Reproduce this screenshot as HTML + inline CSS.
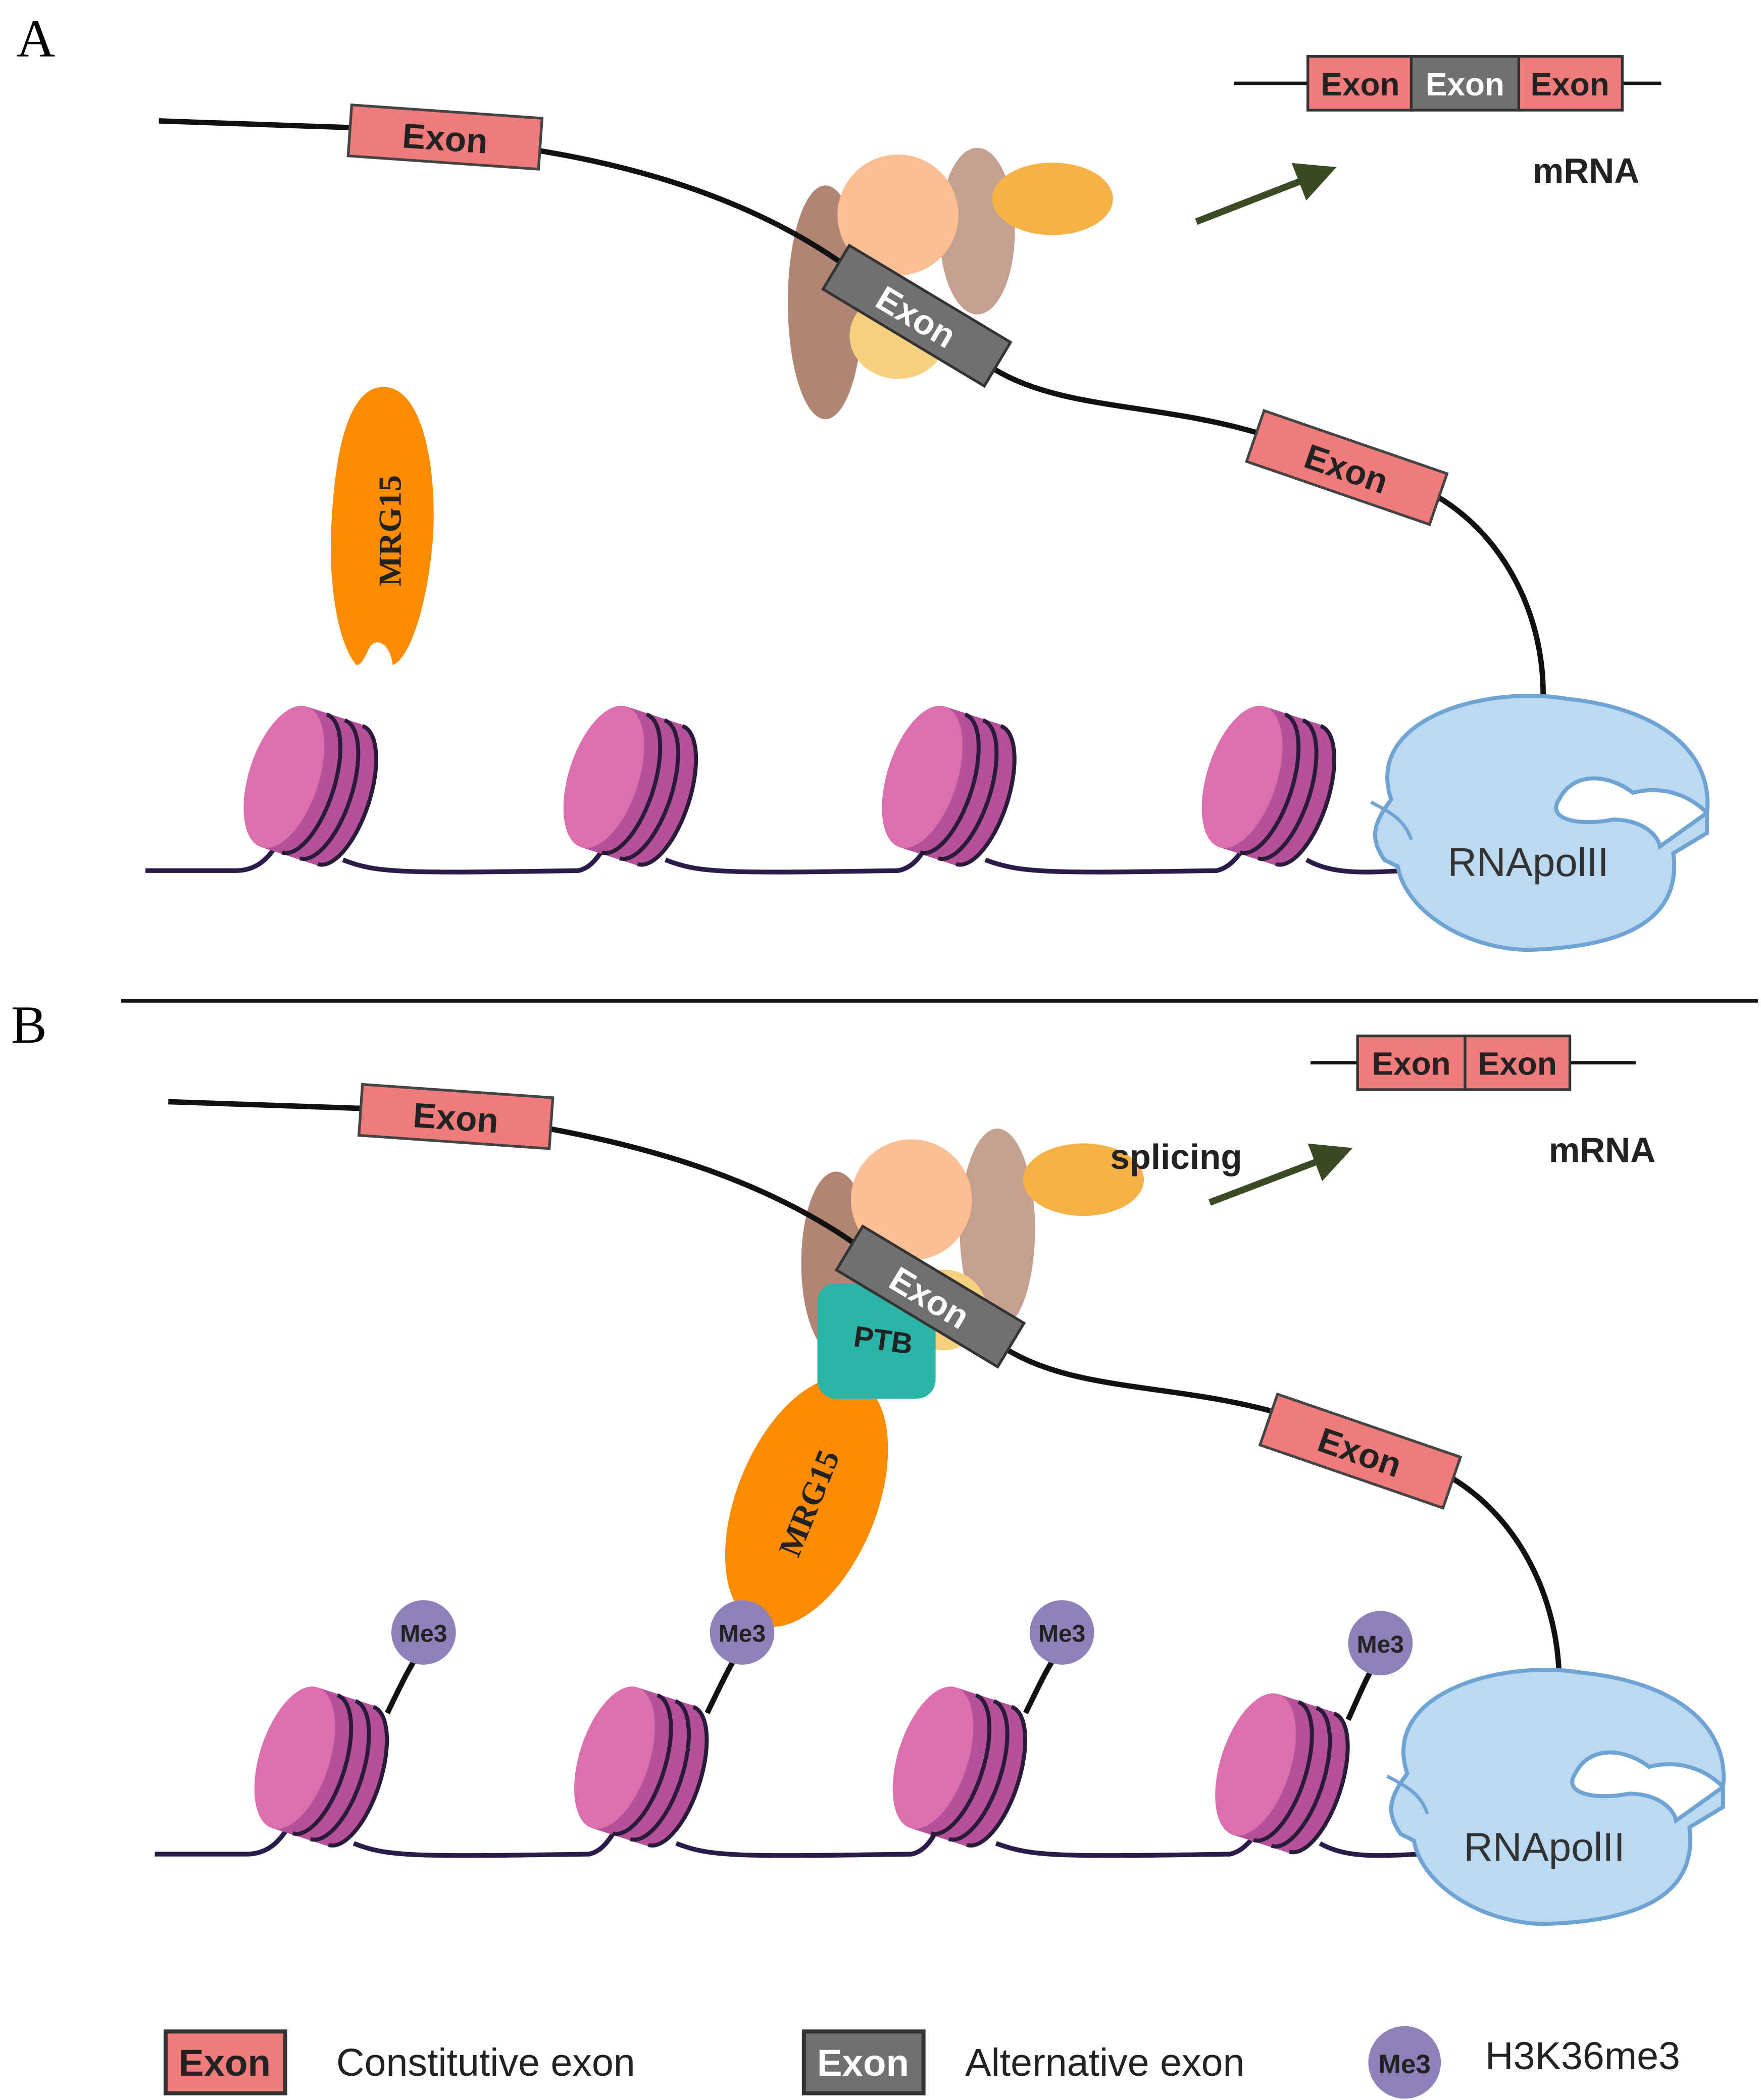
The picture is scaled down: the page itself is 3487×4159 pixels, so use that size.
<!DOCTYPE html>
<html><head><meta charset="utf-8"><style>
html,body{margin:0;padding:0;background:#fff;}
svg{display:block;}
</style></head><body>
<svg width="3487" height="4159" viewBox="0 0 1310 1563" xmlns="http://www.w3.org/2000/svg">
<defs>
<g id="nuc">
  <g transform="rotate(18)">
    <rect x="-22" y="-55" width="44" height="110" fill="#b5519a"/>
    <ellipse cx="22" cy="0" rx="22" ry="55" fill="#b5519a"/>
    <ellipse cx="-22" cy="0" rx="26" ry="55" fill="#dc6fad"/>
    <path d="M-6,-54 A22,54 0 0 1 -6,54" fill="none" stroke="#2b1b3a" stroke-width="3"/>
    <path d="M8,-54 A22,54 0 0 1 8,54" fill="none" stroke="#2b1b3a" stroke-width="3"/>
    <path d="M22,-54 A22,54 0 0 1 22,54" fill="none" stroke="#2b1b3a" stroke-width="3"/>
  </g>
</g>
<g id="pol">
  <path d="M-110,-20 C-130,-80 -40,-105 20,-95 C90,-88 130,-55 125,-10 C110,-25 90,-30 70,-25 C50,-40 25,-40 15,-20 C5,-5 30,0 55,-5 C75,-5 88,5 90,15 L125,-10 L125,5 L100,20 C105,60 80,90 -10,92 C-60,90 -100,60 -105,30 L-115,25 C-125,10 -125,0 -110,-20 Z" fill="#bcd9f2" stroke="#6ea3d3" stroke-width="3"/>
  <path d="M-125,-18 C-110,-10 -100,-5 -95,10" fill="none" stroke="#6ea3d3" stroke-width="2.5"/>
</g>
<marker id="ah" markerWidth="6" markerHeight="6" refX="4" refY="3" orient="auto" markerUnits="strokeWidth">
  <path d="M0,0 L6,3 L0,6 Z" fill="#3a4a25"/>
</marker>
</defs>

<g font-family="Liberation Sans, sans-serif">
<text x="12" y="42" font-family="Liberation Serif, serif" font-size="40">A</text>

<ellipse cx="614" cy="225" rx="28" ry="87" fill="#b08573"/>
<ellipse cx="727" cy="172" rx="28" ry="62" fill="#c5a090"/>
<circle cx="668" cy="160" r="45" fill="#fbbf93"/>
<ellipse cx="783" cy="148" rx="45" ry="27" fill="#f5b347"/>
<ellipse cx="668" cy="250" rx="36" ry="32" fill="#f5d17f"/>

<path d="M118,90 L262,95" stroke="#111" stroke-width="4" fill="none"/>
<path d="M400,112 C480,125 560,150 625,195" stroke="#111" stroke-width="4" fill="none"/>
<path d="M740,275 C790,305 860,300 935,322" stroke="#111" stroke-width="4" fill="none"/>
<path d="M1070,370 C1120,400 1150,460 1148,522" stroke="#111" stroke-width="4" fill="none"/>
<g transform="translate(331,102) rotate(4)"><rect x="-71" y="-19" width="142" height="38" fill="#ef7b7b" stroke="#444" stroke-width="2"/><text x="0" y="10" text-anchor="middle" font-size="26" font-weight="bold" fill="#222">Exon</text></g>
<g transform="translate(682,235) rotate(31)"><rect x="-70" y="-19" width="140" height="38" fill="#707070" stroke="#333" stroke-width="2"/><text x="0" y="10" text-anchor="middle" font-size="26" font-weight="bold" fill="#fff">Exon</text></g>
<g transform="translate(1002,348) rotate(19)"><rect x="-72" y="-20" width="144" height="40" fill="#ef7b7b" stroke="#444" stroke-width="2"/><text x="0" y="10" text-anchor="middle" font-size="26" font-weight="bold" fill="#222">Exon</text></g>

<line x1="918" y1="62" x2="1236" y2="62" stroke="#111" stroke-width="2.5"/>
<rect x="973" y="42" width="77" height="40" fill="#ef7b7b" stroke="#333" stroke-width="2"/>
<rect x="1050" y="42" width="80" height="40" fill="#707070" stroke="#333" stroke-width="2"/>
<rect x="1130" y="42" width="77" height="40" fill="#ef7b7b" stroke="#333" stroke-width="2"/>
<text x="1012" y="71" text-anchor="middle" font-size="24" font-weight="bold" fill="#222">Exon</text>
<text x="1090" y="71" text-anchor="middle" font-size="24" font-weight="bold" fill="#fff">Exon</text>
<text x="1168" y="71" text-anchor="middle" font-size="24" font-weight="bold" fill="#222">Exon</text>
<text x="1180" y="136" text-anchor="middle" font-size="26" font-weight="bold" fill="#222">mRNA</text>
<line x1="890" y1="165" x2="985" y2="128" stroke="#3a4a25" stroke-width="5" marker-end="url(#ah)"/>

<path d="M285,288 C315,288 325,350 322,400 C318,450 305,490 292,495 C290,480 282,475 276,480 C272,486 270,495 265,495 C252,480 245,440 246,400 C248,340 258,288 285,288 Z" fill="#fb8c00"/>
<text transform="translate(298,395) rotate(-90)" text-anchor="middle" font-family="Liberation Serif, serif" font-size="24" font-weight="bold" fill="#222">MRG15</text>

<path d="M108,648 L175,648 C200,648 205,625 210,625 M255,640 C280,650 300,650 430,648 C445,645 450,625 455,625 M495,640 C520,650 540,650 668,648 C685,645 690,625 692,625 M733,640 C760,650 780,650 905,648 C920,645 928,625 930,625 M972,640 C990,650 1010,650 1045,648" stroke="#2b1b4a" stroke-width="3.5" fill="none"/>
<use href="#nuc" x="232" y="585"/>
<use href="#nuc" x="470" y="585"/>
<use href="#nuc" x="707" y="585"/>
<use href="#nuc" x="945" y="585"/>
<use href="#pol" x="1145" y="615"/>
<text x="1137" y="652" text-anchor="middle" font-size="30" fill="#333">RNApolII</text>

<line x1="90" y1="745" x2="1308" y2="745" stroke="#111" stroke-width="2.5"/>

<text x="8" y="776" font-family="Liberation Serif, serif" font-size="40">B</text>

<ellipse cx="622" cy="940" rx="26" ry="68" fill="#b08573"/>
<ellipse cx="742" cy="915" rx="28" ry="75" fill="#c5a090"/>
<circle cx="678" cy="893" r="45" fill="#fbbf93"/>
<ellipse cx="806" cy="878" rx="45" ry="27" fill="#f5b347"/>
<ellipse cx="702" cy="975" rx="32" ry="30" fill="#f5d17f"/>

<path d="M125,820 L270,825" stroke="#111" stroke-width="4" fill="none"/>
<path d="M408,840 C490,855 570,880 635,925" stroke="#111" stroke-width="4" fill="none"/>
<path d="M750,1005 C800,1035 870,1030 945,1050" stroke="#111" stroke-width="4" fill="none"/>
<path d="M1080,1100 C1130,1130 1160,1190 1160,1252" stroke="#111" stroke-width="4" fill="none"/>

<g transform="translate(600,1118) rotate(22)">
<ellipse cx="0" cy="0" rx="52" ry="98" fill="#fb8c00"/>
<text transform="rotate(-90)" x="0" y="10" text-anchor="middle" font-family="Liberation Serif, serif" font-size="24" font-weight="bold" fill="#222">MRG15</text>
</g>
<rect x="608" y="955" width="88" height="86" rx="14" fill="#2bb5a6"/>
<text x="657" y="1005" text-anchor="middle" font-size="22" font-weight="bold" fill="#222" transform="rotate(8 657 998)">PTB</text>

<g transform="translate(339,831) rotate(4)"><rect x="-71" y="-19" width="142" height="38" fill="#ef7b7b" stroke="#444" stroke-width="2"/><text x="0" y="10" text-anchor="middle" font-size="26" font-weight="bold" fill="#222">Exon</text></g>
<g transform="translate(692,965) rotate(31)"><rect x="-70" y="-19" width="140" height="38" fill="#707070" stroke="#333" stroke-width="2"/><text x="0" y="10" text-anchor="middle" font-size="26" font-weight="bold" fill="#fff">Exon</text></g>
<g transform="translate(1012,1080) rotate(19)"><rect x="-72" y="-20" width="144" height="40" fill="#ef7b7b" stroke="#444" stroke-width="2"/><text x="0" y="10" text-anchor="middle" font-size="26" font-weight="bold" fill="#222">Exon</text></g>

<text x="875" y="870" text-anchor="middle" font-size="26" font-weight="bold" fill="#222">splicing</text>
<line x1="975" y1="791" x2="1217" y2="791" stroke="#111" stroke-width="2.5"/>
<rect x="1010" y="771" width="80" height="40" fill="#ef7b7b" stroke="#333" stroke-width="2"/>
<rect x="1090" y="771" width="78" height="40" fill="#ef7b7b" stroke="#333" stroke-width="2"/>
<text x="1050" y="800" text-anchor="middle" font-size="24" font-weight="bold" fill="#222">Exon</text>
<text x="1129" y="800" text-anchor="middle" font-size="24" font-weight="bold" fill="#222">Exon</text>
<text x="1192" y="865" text-anchor="middle" font-size="26" font-weight="bold" fill="#222">mRNA</text>
<line x1="900" y1="895" x2="997" y2="858" stroke="#3a4a25" stroke-width="5" marker-end="url(#ah)"/>

<path d="M115,1380 L183,1380 C208,1380 213,1357 218,1357 M263,1372 C288,1382 308,1382 438,1380 C453,1377 458,1357 463,1357 M503,1372 C528,1382 548,1382 678,1380 C693,1377 698,1357 700,1357 M741,1372 C768,1382 788,1382 915,1380 C930,1377 938,1357 940,1357 M982,1372 C1000,1382 1020,1382 1055,1380" stroke="#2b1b4a" stroke-width="3.5" fill="none"/>
<path d="M288,1275 C300,1250 305,1240 315,1225" stroke="#111" stroke-width="4" fill="none"/>
<path d="M526,1275 C538,1250 543,1240 552,1225" stroke="#111" stroke-width="4" fill="none"/>
<path d="M763,1275 C775,1250 780,1240 790,1225" stroke="#111" stroke-width="4" fill="none"/>
<path d="M1003,1280 C1012,1260 1018,1245 1027,1232" stroke="#111" stroke-width="4" fill="none"/>
<use href="#nuc" x="240" y="1315"/>
<use href="#nuc" x="478" y="1315"/>
<use href="#nuc" x="715" y="1315"/>
<use href="#nuc" x="955" y="1320"/>
<g font-size="18" font-weight="bold" fill="#222" text-anchor="middle">
<circle cx="315" cy="1215" r="24" fill="#8e80b8"/><text x="315" y="1222">Me3</text>
<circle cx="552" cy="1215" r="24" fill="#8e80b8"/><text x="552" y="1222">Me3</text>
<circle cx="790" cy="1215" r="24" fill="#8e80b8"/><text x="790" y="1222">Me3</text>
<circle cx="1027" cy="1223" r="24" fill="#8e80b8"/><text x="1027" y="1230">Me3</text>
</g>
<use href="#pol" x="1157" y="1340"/>
<text x="1149" y="1385" text-anchor="middle" font-size="30" fill="#333">RNApolII</text>

<rect x="123" y="1512" width="89" height="46" fill="#ef7b7b" stroke="#333" stroke-width="3"/>
<text x="167" y="1545" text-anchor="middle" font-size="28" font-weight="bold" fill="#222">Exon</text>
<text x="250" y="1545" font-size="29" fill="#222">Constitutive exon</text>
<rect x="598" y="1512" width="89" height="46" fill="#707070" stroke="#333" stroke-width="3"/>
<text x="642" y="1545" text-anchor="middle" font-size="28" font-weight="bold" fill="#fff">Exon</text>
<text x="718" y="1545" font-size="29" fill="#222">Alternative exon</text>
<circle cx="1045" cy="1535" r="27" fill="#8e80b8"/>
<text x="1045" y="1543" text-anchor="middle" font-size="20" font-weight="bold" fill="#222">Me3</text>
<text x="1105" y="1540" font-size="29" fill="#222">H3K36me3</text>
</g>
</svg>
</body></html>
